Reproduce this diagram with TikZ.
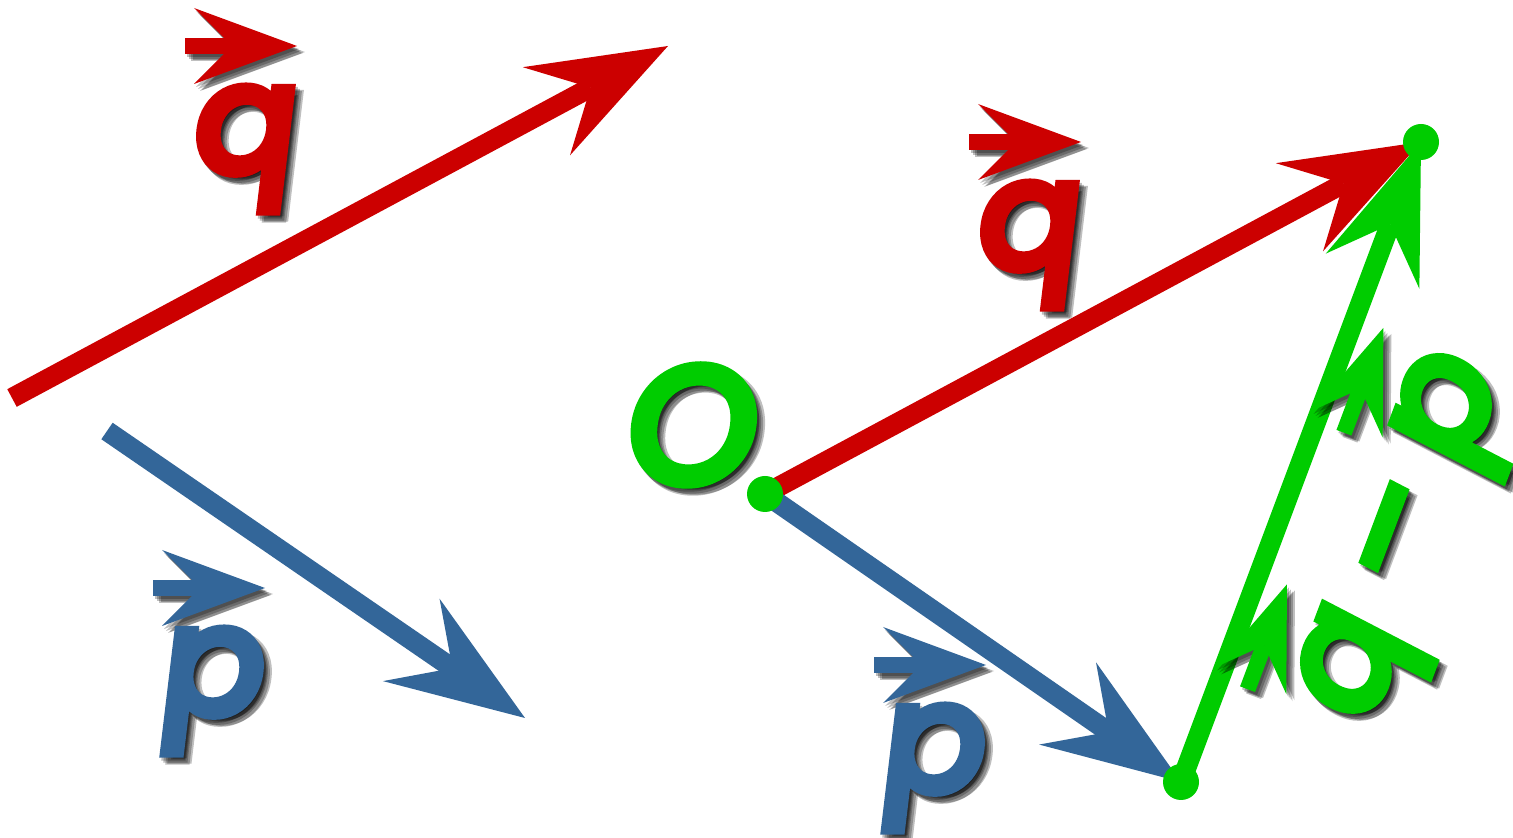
\documentclass[tikz,border=0pt]{standalone}
\usepackage{fontspec}
\newfontfamily\labfont{Poppins}[FakeSlant=0.12,FakeBold=7]
\usetikzlibrary{arrows.meta}
\definecolor{vred}{RGB}{204,0,0}
\definecolor{vblue}{RGB}{51,102,153}
\definecolor{vgreen}{RGB}{0,204,0}
\tikzset{
  bigarr/.style={line width=20pt, -{Stealth[length=138pt,width=100pt,inset=50pt,line width=0pt]}},
  smallarr/.style={line width=16pt, -{Stealth[length=103pt,width=76pt,inset=38pt,line width=0pt]}},
  lbl/.style={inner sep=0pt, font=\labfont\fontsize{150}{150}\selectfont},
  olbl/.style={inner sep=0pt, font=\labfont\fontsize{163}{163}\selectfont},
  gdot/.style={circle, fill=vgreen, minimum size=36pt, inner sep=0pt},
  shd/.style={opacity=0.25},
}
% vector label: x, y, letter, colour, name
\newcommand\vlab[5]{%
  \foreach \dx/\dy in {2/-3,4/-5,6/-7,8/-6}{%
    \begin{scope}[shift={(\dx,\dy)}, shd]
      \node[lbl, text=black] (#5s\dx) at (#1,#2) {#3};
      \draw[smallarr, black] ([xshift=-56pt,yshift=103pt]#5s\dx.center) -- ([xshift=56pt,yshift=103pt]#5s\dx.center);
    \end{scope}}%
  \node[lbl, text=#4] (#5) at (#1,#2) {#3};
  \draw[smallarr, #4] ([xshift=-56pt,yshift=103pt]#5.center) -- ([xshift=56pt,yshift=103pt]#5.center);
}
% rotated green label content (local coordinates)
\newcommand\difflab[2]{%
  \node[lbl, text=#1] (dq#2) at (-138,-28) {q};
  \draw[smallarr, #1] ([xshift=-56pt,yshift=103pt]dq#2.center) -- ([xshift=56pt,yshift=103pt]dq#2.center);
  \node[lbl, text=#1] (dm#2) at (0,-28) {\vphantom{q}–};
  \node[lbl, text=#1] (dp#2) at (136,-28) {p};
  \draw[smallarr, #1] ([xshift=-56pt,yshift=103pt]dp#2.center) -- ([xshift=56pt,yshift=103pt]dp#2.center);
}
\begin{document}
\begin{tikzpicture}[x=1pt,y=1pt]
\fill[white] (0,0) rectangle (1513,838);
\useasboundingbox (0,0) rectangle (1513,838);

% left free vectors
\coordinate (qa) at (12,440);
\coordinate (qb) at (668,792);
\coordinate (pa) at (107,407);
\coordinate (pb) at (525,120);
\draw[bigarr, vred] (qa) -- (qb);
\draw[bigarr, vblue] (pa) -- (pb);

% points
\coordinate (O) at (765,344);
\coordinate (Q) at (1421,696);
\coordinate (P) at (1181,56);
\draw[bigarr, vred] (O) -- (Q);
\draw[bigarr, vblue] (O) -- (P);
\draw[bigarr, vgreen] (P) -- (Q);
\node[gdot] (dO) at (O) {};
\node[gdot] (dQ) at (Q) {};
\node[gdot] (dP) at (P) {};

% labels
\vlab{241}{689}{q}{vred}{lq1}
\vlab{209}{147}{p}{vblue}{lp1}
\vlab{1025}{593}{q}{vred}{lq2}
\vlab{930}{70}{p}{vblue}{lp2}

\foreach \dx/\dy in {2/-3,4/-5,6/-7,8/-6}{%
  \node[olbl, text=black, shd] (Os\dx) at (687+\dx,413+\dy) {O};}
\node[olbl, text=vgreen] (Olab) at (687,413) {O};

\foreach \dx/\dy in {2/-3,4/-5,6/-7,8/-6}{%
  \begin{scope}[shift={(1386+\dx,304+\dy)}, rotate=69.4, transform shape, shd]
    \difflab{black}{s\dx}
  \end{scope}}
\begin{scope}[shift={(1386,304)}, rotate=69.4, transform shape]
  \difflab{vgreen}{m}
\end{scope}
\end{tikzpicture}
\end{document}
